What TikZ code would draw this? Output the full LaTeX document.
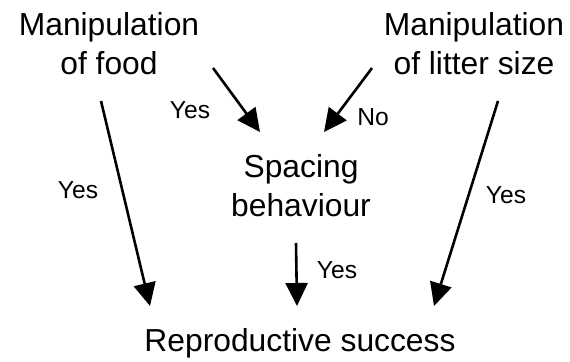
\documentclass[tikz,border=0pt]{standalone}
\usepackage{fontspec}
\setmainfont{Liberation Sans}
\usetikzlibrary{arrows.meta, positioning}

\begin{document}
\begin{tikzpicture}[x=0.5pt, y=-0.5pt,
    factor/.style={inner sep=0pt, align=center, font=\fontsize{15.9}{19.5}\selectfont},
    ans/.style={inner sep=0pt, font=\fontsize{12.3}{14}\selectfont},
    eff/.style={draw, line width=1.3pt, -{Triangle[width=11pt, length=11.5pt]}}
]
    \useasboundingbox (0,0) rectangle (570,361);

    % Treatments and outcomes
    \node[factor] (food) at (109,44) {Manipulation\\of food};
    \node[factor] (litter) at (474,44) {Manipulation\\of litter size};
    \node[factor] (spacing) at (301,186) {Spacing\\behaviour};
    \node[factor] (repro) at (300,343) {Reproductive success};

    % Answers
    \node[ans] (yesfs) at (190,110) {Yes};
    \node[ans] (nols) at (373,117) {No};
    \node[ans] (yesfr) at (78,190) {Yes};
    \node[ans] (yessr) at (337,270) {Yes};
    \node[ans] (yeslr) at (506,195) {Yes};

    % Paths
    \draw[eff] ([shift={(104,24)}]food.center) -- ([shift={(-41,-54)}]spacing.center);
    \draw[eff] ([shift={(-102,24)}]litter.center) -- ([shift={(23,-54)}]spacing.center);
    \draw[eff] ([shift={(-8,57)}]food.center) -- ([shift={(-150,-37)}]repro.center);
    \draw[eff] ([shift={(24,57)}]litter.center) -- ([shift={(134,-37)}]repro.center);
    \draw[eff] ([shift={(-5,57)}]spacing.center) -- ([shift={(-3,-37)}]repro.center);

\end{tikzpicture}
\end{document}
